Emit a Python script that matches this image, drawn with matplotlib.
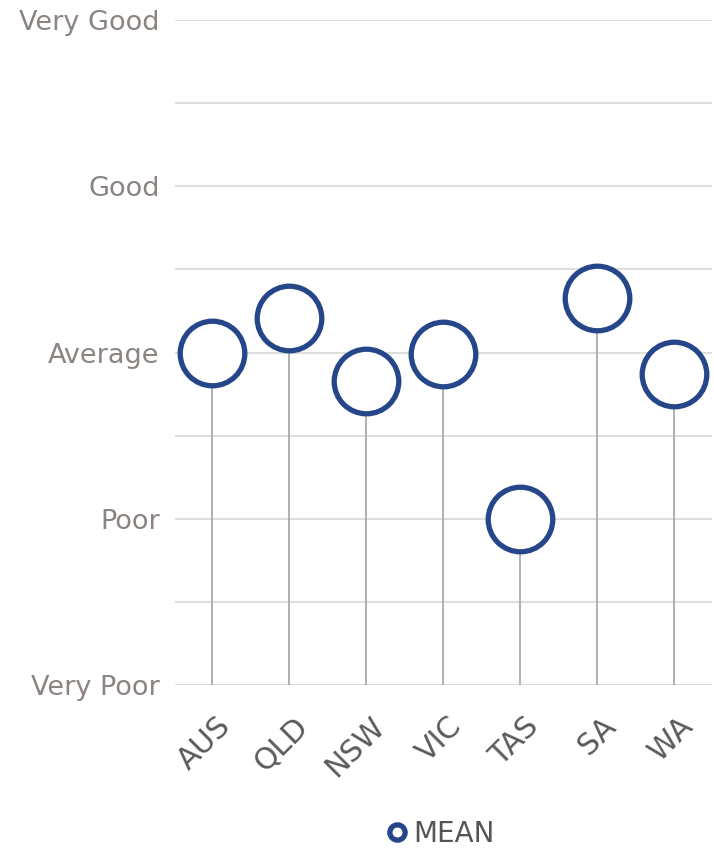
import numpy as np
import matplotlib.pyplot as plt
import matplotlib.transforms as mtransforms
from matplotlib.lines import Line2D

# data
regions = ["AUS", "QLD", "NSW", "VIC", "TAS", "SA", "WA"]
mean_score = [3.0, 3.21, 2.83, 2.99, 2.0, 3.33, 2.87]
rating_labels = ["Very Poor", "Poor", "Average", "Good", "Very Good"]
rating_values = [1, 2, 3, 4, 5]

navy = "#26468a"
plt.rcParams["font.family"] = ["DejaVu Sans"]

fig = plt.figure(figsize=(7.14, 8.5), dpi=100)
ax = fig.add_axes([0.245, 0.194, 0.752, 0.7825])

x = np.arange(len(regions))
ax.vlines(x, 1, mean_score, color="#aaaaaa", lw=1.3, zorder=2)
ax.plot(x, mean_score, "o", ms=46.5, mfc="white", mec=navy, mew=3.8,
        clip_on=False, zorder=3)

ax.set_xlim(-0.48, 6.49)
ax.set_ylim(1, 5)
ax.set_yticks(rating_values)
ax.set_yticklabels(rating_labels, fontsize=19.5, color="#8c8481")
ax.set_yticks(np.arange(1.5, 5, 1), minor=True)
ax.grid(True, which="both", axis="y", color="#dedede", lw=1.5, zorder=0)
ax.tick_params(axis="y", which="both", length=0, pad=11)

ax.set_xticks(x)
ax.set_xticklabels(regions, rotation=45, ha="right", rotation_mode="anchor",
                   fontsize=21.5, color="#5a5a5a")
ax.tick_params(axis="x", length=0, pad=19)
shift = mtransforms.ScaledTranslation(4 / 100, 0, fig.dpi_scale_trans)
for lab in ax.get_xticklabels():
    lab.set_transform(lab.get_transform() + shift)

for s in ax.spines.values():
    s.set_visible(False)

handle = Line2D([], [], ls="none", marker="o", ms=11, mfc="white",
                mec=navy, mew=3.8)
fig.legend([handle], ["MEAN"], loc="center", bbox_to_anchor=(0.615, 0.019),
           frameon=False, labelcolor="#555555", prop={"size": 20},
           handletextpad=0.1, handlelength=1)

fig.savefig("out.png", dpi=100)
